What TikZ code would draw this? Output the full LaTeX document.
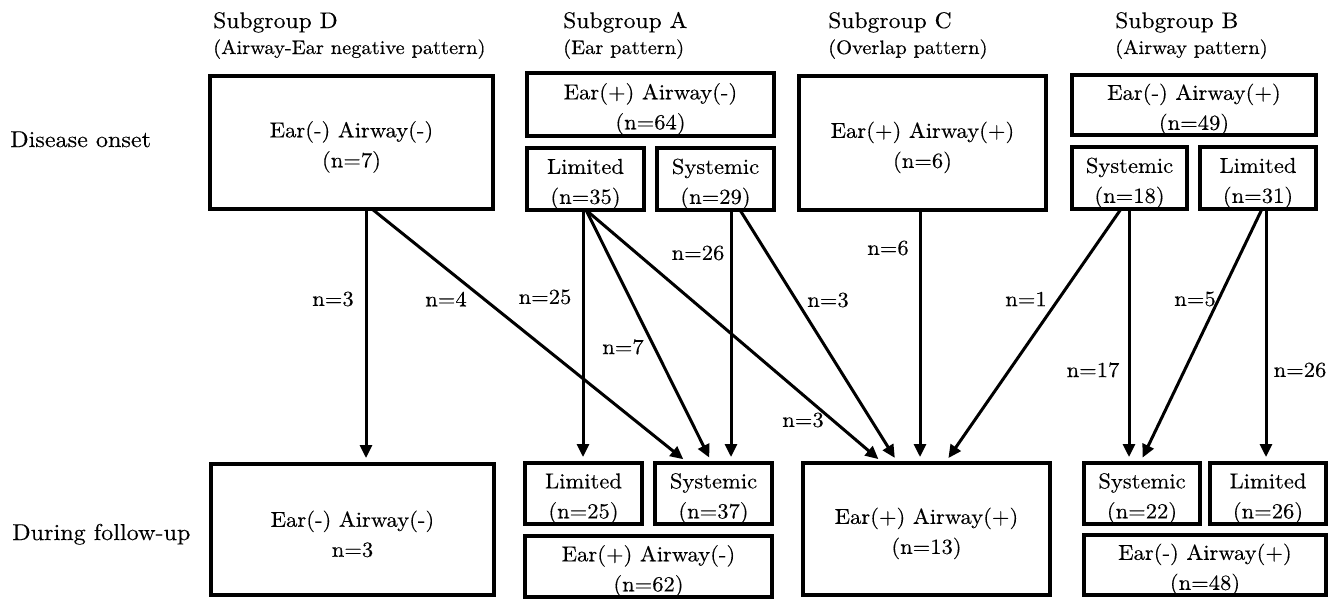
\documentclass[tikz,border=0pt]{standalone}
\usepackage{fontspec}
\setmainfont{lmroman10-regular}[Extension=.otf, FakeStretch=1.05, FakeBold=0.3]
\usetikzlibrary{arrows.meta}
\newcommand\tup{\rule{0pt}{25pt}}
\begin{document}
\begin{tikzpicture}[x=1pt,y=-1pt,
  box/.style={draw, line width=4pt, inner sep=0pt, outer sep=0pt, align=center, font={\fontsize{21.5}{30}\selectfont}},
  flow/.style={line width=3pt, -{Triangle[length=13pt,width=12pt]}, shorten >=6pt},
  cnt/.style={font={\fontsize{21.5}{26}\selectfont}, inner sep=0pt},
  rowlab/.style={font={\fontsize{23}{28}\selectfont}, anchor=base west, inner sep=0pt},
  head/.style={font={\fontsize{22.5}{26}\selectfont}, anchor=base west, inner sep=0pt},
  subhead/.style={font={\fontsize{19.5}{24}\selectfont}, anchor=base west, inner sep=0pt}]
\useasboundingbox (0,0) rectangle (1342,600);

% row labels
\node[rowlab] (onset) at (10,147) {Disease onset};
\node[rowlab] (follow) at (12,540) {During follow-up};

% headers
\node[head] (hD) at (213,28) {Subgroup D};
\node[subhead] (sD) at (213,54) {(Airway-Ear negative pattern)};
\node[head] (hA) at (563,28) {Subgroup A};
\node[subhead] (sA) at (563,54) {(Ear pattern)};
\node[head] (hC) at (828,28) {Subgroup C};
\node[subhead] (sC) at (828,54) {(Overlap pattern)};
\node[head] (hB) at (1115,28) {Subgroup B};
\node[subhead] (sB) at (1115,54) {(Airway pattern)};

% top row
\node[box, minimum width=283pt, minimum height=133pt] (D1) at (351.5,142.5) {\tup Ear(-) Airway(-)\\(n=7)};
\node[box, minimum width=247pt, minimum height=63pt] (A1) at (650.5,104.5) {\tup Ear(+) Airway(-)\\(n=64)};
\node[box, minimum width=117pt, minimum height=62pt] (A1L) at (585.5,179) {\tup Limited\\(n=35)};
\node[box, minimum width=117pt, minimum height=62pt] (A1S) at (715.5,179) {\tup Systemic\\(n=29)};
\node[box, minimum width=247pt, minimum height=134pt] (C1) at (922.5,143) {\tup Ear(+) Airway(+)\\(n=6)};
\node[box, minimum width=244pt, minimum height=60pt] (B1) at (1194,105) {\tup Ear(-) Airway(+)\\(n=49)};
\node[box, minimum width=115pt, minimum height=62pt] (B1S) at (1129.5,178) {\tup Systemic\\(n=18)};
\node[box, minimum width=116pt, minimum height=62pt] (B1L) at (1258,178) {\tup Limited\\(n=31)};

% bottom row
\node[box, minimum width=283pt, minimum height=131pt] (D2) at (352.5,529.5) {\tup Ear(-) Airway(-)\\n=3};
\node[box, minimum width=117pt, minimum height=61pt] (A2L) at (583.5,493.5) {\tup Limited\\(n=25)};
\node[box, minimum width=117pt, minimum height=61pt] (A2S) at (713.5,493.5) {\tup Systemic\\(n=37)};
\node[box, minimum width=247pt, minimum height=57pt] (A2) at (648.5,566.5) {\tup Ear(+) Airway(-)\\(n=62)};
\node[box, minimum width=247pt, minimum height=132pt] (C2) at (926.5,529) {\tup Ear(+) Airway(+)\\(n=13)};
\node[box, minimum width=116pt, minimum height=61pt] (B2S) at (1142,493.5) {\tup Systemic\\(n=22)};
\node[box, minimum width=116pt, minimum height=61pt] (B2L) at (1268,493.5) {\tup Limited\\(n=26)};
\node[box, minimum width=242pt, minimum height=60pt] (B2) at (1205,565) {\tup Ear(-) Airway(+)\\(n=48)};

% connectors
\draw[flow] ([xshift=14.5pt]D1.south) -- ([xshift=13.5pt]D2.north);
\draw[flow] ([xshift=20.5pt]D1.south) -- ([xshift=-25.5pt]A2S.north);
\draw[flow] ([xshift=-2.5pt]A1L.south) -- ([xshift=-0.5pt]A2L.north);
\draw[flow] ([xshift=0.5pt]A1L.south) -- ([xshift=-1.5pt]A2S.north);
\draw[flow] ([xshift=0.5pt]A1L.south) -- ([xshift=-43.5pt]C2.north);
\draw[flow] ([xshift=15.5pt]A1S.south) -- ([xshift=17.5pt]A2S.north);
\draw[flow] ([xshift=24.5pt]A1S.south) -- ([xshift=-28.5pt]C2.north);
\draw[flow] ([xshift=-2.5pt]C1.south) -- ([xshift=-6.5pt]C2.north);
\draw[flow] ([xshift=-8.5pt]B1S.south) -- ([xshift=18.5pt]C2.north);
\draw[flow] ([xshift=-0.5pt]B1S.south) -- ([xshift=-13pt]B2S.north);
\draw[flow] ([xshift=4pt]B1L.south) -- ([xshift=-2pt]B2S.north);
\draw[flow] ([xshift=8pt]B1L.south) -- ([xshift=-2pt]B2L.north);

% counts
\node[cnt] (c1) at (333,299) {n=3};
\node[cnt] (c2) at (446,299) {n=4};
\node[cnt] (c3) at (545,297) {n=25};
\node[cnt] (c4) at (623,347) {n=7};
\node[cnt] (c5) at (698,253) {n=26};
\node[cnt] (c6) at (828,300) {n=3};
\node[cnt] (c7) at (803,420) {n=3};
\node[cnt] (c8) at (888,248) {n=6};
\node[cnt] (c9) at (1026,299) {n=1};
\node[cnt] (c10) at (1195,299) {n=5};
\node[cnt] (c11) at (1093,370) {n=17};
\node[cnt] (c12) at (1300,370) {n=26};
\end{tikzpicture}
\end{document}
